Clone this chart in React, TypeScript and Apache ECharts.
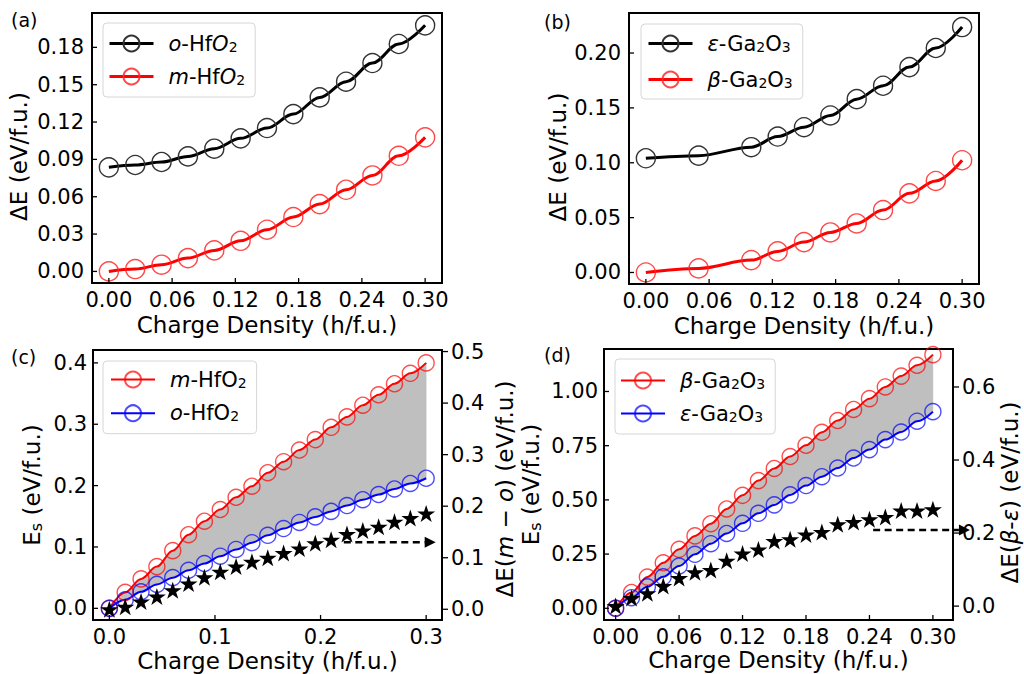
import React, { useEffect, useRef } from 'react';
import * as echarts from 'echarts';

const FONT = 'DejaVu Sans';

// ---------- Panel (a) ----------
const aX = [0, 0.025, 0.05, 0.075, 0.1, 0.125, 0.15, 0.175, 0.2, 0.225, 0.25, 0.275, 0.3];
const aOrtho = [0.0836, 0.0855, 0.0879, 0.0924, 0.0986, 0.1069, 0.1152, 0.1264, 0.1398, 0.1524, 0.1674, 0.1827, 0.1977];
const aMono = [0.0, 0.0019, 0.0054, 0.0107, 0.0169, 0.0246, 0.0335, 0.0437, 0.0541, 0.0656, 0.0771, 0.0929, 0.1077];
const aXTicks = [0, 0.06, 0.12, 0.18, 0.24, 0.3];
const aYTicks = [0, 0.03, 0.06, 0.09, 0.12, 0.15, 0.18];

// ---------- Panel (b) ----------
const bX = [0, 0.05, 0.1, 0.125, 0.15, 0.175, 0.2, 0.225, 0.25, 0.275, 0.3];
const bEps = [0.1041, 0.1065, 0.1142, 0.1239, 0.1324, 0.1431, 0.158, 0.1702, 0.1872, 0.2046, 0.2237];
const bBeta = [0, 0.0037, 0.0113, 0.0192, 0.0277, 0.0365, 0.0447, 0.0569, 0.0721, 0.0834, 0.1023];
const bXTicks = [0, 0.06, 0.12, 0.18, 0.24, 0.3];
const bYTicks = [0, 0.05, 0.1, 0.15, 0.2];

// ---------- Panel (c) ----------
const cX = [0, 0.015, 0.03, 0.045, 0.06, 0.075, 0.09, 0.105, 0.12, 0.135, 0.15, 0.165, 0.18, 0.195, 0.21, 0.225, 0.24, 0.255, 0.27, 0.285, 0.3];
const cMono = [0, 0.026, 0.048, 0.068, 0.094, 0.12, 0.142, 0.161, 0.181, 0.199, 0.221, 0.239, 0.258, 0.275, 0.295, 0.312, 0.331, 0.348, 0.366, 0.383, 0.4];
const cOrtho = [0, 0.014, 0.027, 0.039, 0.05, 0.062, 0.073, 0.085, 0.096, 0.107, 0.119, 0.13, 0.14, 0.149, 0.158, 0.1675, 0.177, 0.1855, 0.1945, 0.2035, 0.212];
const cDiff = [0, 0.005, 0.015, 0.025, 0.037, 0.05, 0.062, 0.073, 0.083, 0.092, 0.1, 0.109, 0.118, 0.128, 0.135, 0.146, 0.153, 0.16, 0.17, 0.177, 0.186];
const cArrow = [0.222, 0.13, 0.309, 0.13];
const cXTicks = [0, 0.1, 0.2, 0.3];
const cYTicks = [0, 0.1, 0.2, 0.3, 0.4];
const cY2Ticks = [0, 0.1, 0.2, 0.3, 0.4, 0.5];

// ---------- Panel (d) ----------
const dX = [0, 0.015, 0.03, 0.045, 0.06, 0.075, 0.09, 0.105, 0.12, 0.135, 0.15, 0.165, 0.18, 0.195, 0.21, 0.225, 0.24, 0.255, 0.27, 0.285, 0.3];
const dBeta = [0, 0.073, 0.144, 0.21, 0.272, 0.334, 0.39, 0.458, 0.521, 0.589, 0.645, 0.7, 0.752, 0.812, 0.866, 0.917, 0.967, 1.021, 1.071, 1.121, 1.17];
const dEps = [0, 0.049, 0.099, 0.145, 0.195, 0.249, 0.298, 0.345, 0.392, 0.438, 0.477, 0.523, 0.566, 0.607, 0.647, 0.693, 0.732, 0.778, 0.813, 0.863, 0.907];
const dDiff = [0, 0.022, 0.035, 0.055, 0.077, 0.093, 0.099, 0.124, 0.144, 0.155, 0.178, 0.183, 0.196, 0.203, 0.224, 0.23, 0.238, 0.244, 0.262, 0.262, 0.265];
const dArrow = [0.2435, 0.2085, 0.335, 0.2085];
const dXTicks = [0, 0.06, 0.12, 0.18, 0.24, 0.3];
const dYTicks = [0, 0.25, 0.5, 0.75, 1.0];
const dY2Ticks = [0, 0.2, 0.4, 0.6];

// axis ranges [min, max]
const RA = { x: [-0.016, 0.316], y: [-0.0093, 0.2076] };
const RB = { x: [-0.016, 0.316], y: [-0.0105, 0.2365] };
const RC = { x: [-0.0155, 0.315], y: [-0.019, 0.421], y2: [-0.0208, 0.503] };
const RD = { x: [-0.011, 0.319], y: [-0.054, 1.196], y2: [-0.038, 0.704] };

const LEGEND_TEXT: Record<string, string> = {
  a_o: '{i|o}{n|-Hf}{i|O}{s|2}',
  a_m: '{i|m}{n|-Hf}{i|O}{s|2}',
  b_e: '{i|ε}{n|-Ga}{s|2}{n|O}{s|3}',
  b_b: '{i|β}{n|-Ga}{s|2}{n|O}{s|3}',
  c_m: '{i|m}{n|-HfO}{s|2}',
  c_o: '{i|o}{n|-HfO}{s|2}',
  d_b: '{i|β}{n|-Ga}{s|2}{n|O}{s|3}',
  d_e: '{i|ε}{n|-Ga}{s|2}{n|O}{s|3}',
};

const STAR = 'path://M50 0L61.23 34.55L97.55 34.55L68.17 55.9L79.39 90.45L50 69.1L20.61 90.45L31.83 55.9L2.45 34.55L38.77 34.55Z';

const TICK_FS = 21;
const NAME_FS = 23;
const LEG_FS = 21;

const legendRich = {
  n: { fontSize: LEG_FS, fontFamily: FONT, color: '#000', lineHeight: 20 },
  i: { fontSize: LEG_FS, fontFamily: FONT, color: '#000', fontStyle: 'italic', lineHeight: 20 },
  s: { fontSize: 14, fontFamily: FONT, color: '#000', lineHeight: 10, verticalAlign: 'bottom' },
};
const nameRich = {
  n: { fontSize: NAME_FS, fontFamily: FONT, color: '#000', lineHeight: 25 },
  i: { fontSize: NAME_FS, fontFamily: FONT, color: '#000', fontStyle: 'italic', lineHeight: 25 },
  s: { fontSize: 16, fontFamily: FONT, color: '#000', lineHeight: 13, verticalAlign: 'bottom' },
};

function pts(xs: number[], ys: number[]) {
  return xs.map((x, i) => [x, ys[i]]);
}

function xAx(grid: number, r: number[], ticks: number[], digits: number, gap: number) {
  return {
    type: 'value', gridIndex: grid, min: r[0], max: r[1],
    axisLine: { show: false }, splitLine: { show: false }, axisTick: { show: false },
    axisLabel: { customValues: ticks, formatter: (v: number) => v.toFixed(digits), fontSize: TICK_FS, fontFamily: FONT, color: '#000', margin: 6 },
    name: 'Charge Density (h/f.u.)', nameLocation: 'middle', nameGap: gap, nameMoveOverlap: false,
    nameTextStyle: { fontSize: NAME_FS, fontFamily: FONT, color: '#000' },
  };
}

function yAx(grid: number, pos: string, r: number[], ticks: number[], digits: number,
  margin: number, name: string, gap: number, shift: number) {
  return {
    type: 'value', gridIndex: grid, position: pos, min: r[0], max: r[1],
    axisLine: { show: false }, splitLine: { show: false }, axisTick: { show: false },
    axisLabel: { customValues: ticks, formatter: (v: number) => v.toFixed(digits), fontSize: TICK_FS, fontFamily: FONT, color: '#000', margin },
    name, nameLocation: 'middle', nameGap: gap, nameRotate: 90, nameMoveOverlap: false,
    nameTextStyle: { fontSize: NAME_FS, fontFamily: FONT, color: '#000', rich: nameRich, padding: [0, shift, 0, 0] },
  };
}

// tick marks drawn through the axes' own scales
function tickSeries(xi: number, yi: number, data: number[][], dx: number, dy: number) {
  return {
    type: 'custom', xAxisIndex: xi, yAxisIndex: yi, silent: true, clip: false, z: 6,
    data,
    renderItem: (_p: any, api: any) => {
      const c = api.coord([api.value(0), api.value(1)]);
      return { type: 'line', shape: { x1: c[0], y1: c[1], x2: c[0] + dx, y2: c[1] + dy }, style: { stroke: '#000', lineWidth: 1.3 } };
    },
  };
}

function lineSeries(name: string, xi: number, yi: number, data: number[][], color: string,
  stroke: string, width: number, size: number) {
  return {
    name, type: 'line', xAxisIndex: xi, yAxisIndex: yi, data,
    smooth: 0.35, smoothMonotone: 'x', symbol: 'circle', symbolSize: size, showSymbol: true,
    itemStyle: { color: 'rgba(0,0,0,0)', borderColor: stroke, borderWidth: 1.4 },
    lineStyle: { color, width }, emphasis: { disabled: true }, z: 3,
  };
}

function fillSeries(xi: number, yi: number, xs: number[], top: number[], bot: number[]) {
  return {
    type: 'custom', xAxisIndex: xi, yAxisIndex: yi, silent: true, z: 1,
    data: [[xs[0], top[0]]],
    renderItem: (_p: any, api: any) => {
      const up = xs.map((x, i) => api.coord([x, top[i]]));
      const dn = xs.map((x, i) => api.coord([x, bot[i]])).reverse();
      return { type: 'polygon', shape: { points: up.concat(dn) }, style: { fill: '#bfbfbf', stroke: '#bfbfbf', lineWidth: 0.5 } };
    },
  };
}

function starSeries(xi: number, yi: number, data: number[][]) {
  return {
    type: 'scatter', xAxisIndex: xi, yAxisIndex: yi, data, symbol: STAR, symbolSize: [18, 17],
    itemStyle: { color: '#000', opacity: 1 }, clip: false, z: 4, emphasis: { disabled: true },
  };
}

function arrowSeries(xi: number, yi: number, arrow: number[]) {
  return {
    type: 'custom', xAxisIndex: xi, yAxisIndex: yi, silent: true, clip: false, z: 7,
    data: [arrow],
    encode: { x: [0, 2], y: [1, 3] },
    renderItem: (_p: any, api: any) => {
      const a = api.coord([api.value(0), api.value(1)]);
      const b = api.coord([api.value(2), api.value(3)]);
      const L = 11, W = 5.5;
      return {
        type: 'group',
        children: [
          { type: 'line', shape: { x1: a[0], y1: a[1], x2: b[0] - L, y2: b[1] }, style: { stroke: '#000', lineWidth: 2.4, lineDash: [7, 4.5] } },
          { type: 'polygon', shape: { points: [[b[0], b[1]], [b[0] - L, b[1] - W], [b[0] - L, b[1] + W]] }, style: { fill: '#000' } },
        ],
      };
    },
  };
}

function legend(left: number, top: number, names: string[], padding: number[], gap: number) {
  return {
    left, top, orient: 'vertical', data: names, padding, itemGap: gap,
    itemWidth: 44, itemHeight: 20, backgroundColor: '#fff', borderColor: '#d6d6d6', borderWidth: 1, borderRadius: 4,
    selectedMode: false, formatter: (n: string) => LEGEND_TEXT[n],
    textStyle: { fontSize: LEG_FS, fontFamily: FONT, color: '#000', padding: [0, 0, 0, 10], rich: legendRich },
    lineStyle: { width: 'inherit' },
  };
}

function gridBox(left: number, top: number, width: number, height: number) {
  return { left, top, width, height, show: true, borderColor: '#000', borderWidth: 2, backgroundColor: 'transparent', containLabel: false, outerBoundsMode: 'none' };
}

function label(text: string, left: number, top: number) {
  return { type: 'text', left, top, style: { text, fontSize: 19, fontFamily: FONT, fill: '#000' } };
}

export default function App() {
  const ref = useRef<HTMLDivElement>(null);
  useEffect(() => {
    if (!ref.current) return;
    const chart = echarts.init(ref.current, undefined, { renderer: 'svg' });
    const option: any = {
      animation: false,
      backgroundColor: '#fff',
      grid: [
        gridBox(92, 13, 350, 270),
        gridBox(629, 13, 350, 271),
        gridBox(93, 350, 349, 270),
        gridBox(604, 349, 349, 271),
      ],
      xAxis: [
        xAx(0, RA.x, aXTicks, 2, 30),
        xAx(1, RB.x, bXTicks, 2, 30),
        xAx(2, RC.x, cXTicks, 1, 29),
        xAx(3, RD.x, dXTicks, 2, 28),
      ],
      yAxis: [
        yAx(0, 'left', RA.y, aYTicks, 2, 8, 'ΔE (eV/f.u.)', 62, 17),
        yAx(1, 'left', RB.y, bYTicks, 2, 8, 'ΔE (eV/f.u.)', 60, 17),
        yAx(2, 'left', RC.y, cYTicks, 1, 6, '{n|E}{s|s}{n| (eV/f.u.)}', 49, 0),
        yAx(2, 'right', RC.y2, cY2Ticks, 1, 9, '{n|ΔE(}{i|m}{n| − }{i|o}{n|) (eV/f.u.)}', 50, 8),
        yAx(3, 'left', RD.y, dYTicks, 2, 6, '{n|E}{s|s}{n| (eV/f.u.)}', 61, 0),
        yAx(3, 'right', RD.y2, dY2Ticks, 1, 9, '{n|ΔE(}{i|β}{n|-}{i|ε}{n|) (eV/f.u.)}', 44, 16),
      ],
      legend: [
        legend(103, 23, ['a_o', 'a_m'], [10, 10, 10, 5], 12),
        legend(641, 24, ['b_e', 'b_b'], [9, 10, 9, 6], 15),
        legend(103, 361, ['c_m', 'c_o'], [8, 10, 10, 7], 12.7),
        legend(615, 359, ['d_b', 'd_e'], [11, 10, 10, 5], 12),
      ],
      graphic: [
        label('(a)', 11, 10),
        label('(b)', 544, 12),
        label('(c)', 11, 347),
        label('(d)', 544, 345),
      ],
      series: [
        lineSeries('a_o', 0, 0, pts(aX, aOrtho), '#000', '#333', 3, 19),
        lineSeries('a_m', 0, 0, pts(aX, aMono), '#ff0000', 'rgba(255,40,40,0.85)', 3, 19),
        lineSeries('b_e', 1, 1, pts(bX, bEps), '#000', '#333', 3, 19),
        lineSeries('b_b', 1, 1, pts(bX, bBeta), '#ff0000', 'rgba(255,40,40,0.85)', 3, 19),
        fillSeries(2, 2, cX, cMono, cOrtho),
        lineSeries('c_m', 2, 2, pts(cX, cMono), '#ff0000', 'rgba(255,0,0,0.7)', 2, 16),
        lineSeries('c_o', 2, 2, pts(cX, cOrtho), '#0000ff', 'rgba(0,0,255,0.7)', 2, 16),
        starSeries(2, 3, pts(cX, cDiff)),
        arrowSeries(2, 3, cArrow),
        fillSeries(3, 4, dX, dBeta, dEps),
        lineSeries('d_b', 3, 4, pts(dX, dBeta), '#ff0000', 'rgba(255,0,0,0.7)', 2, 16),
        lineSeries('d_e', 3, 4, pts(dX, dEps), '#0000ff', 'rgba(0,0,255,0.7)', 2, 16),
        starSeries(3, 5, pts(dX, dDiff)),
        arrowSeries(3, 5, dArrow),
        // ticks
        tickSeries(0, 0, aXTicks.map((v) => [v, RA.y[0]]), 0, -5),
        tickSeries(0, 0, aYTicks.map((v) => [RA.x[0], v]), 5, 0),
        tickSeries(1, 1, bXTicks.map((v) => [v, RB.y[0]]), 0, -5),
        tickSeries(1, 1, bYTicks.map((v) => [RB.x[0], v]), 5, 0),
        tickSeries(2, 2, cXTicks.map((v) => [v, RC.y[0]]), 0, -5),
        tickSeries(2, 2, cYTicks.map((v) => [RC.x[0], v]), 5, 0),
        tickSeries(2, 3, cY2Ticks.map((v) => [RC.x[1], v]), 6, 0),
        tickSeries(3, 4, dXTicks.map((v) => [v, RD.y[0]]), 0, -5),
        tickSeries(3, 4, dYTicks.map((v) => [RD.x[0], v]), 5, 0),
        tickSeries(3, 5, dY2Ticks.map((v) => [RD.x[1], v]), 6, 0),
      ],
    };
    chart.setOption(option);
    return () => chart.dispose();
  }, []);
  return <div ref={ref} style={{ position: 'fixed', left: 0, top: 0, width: 1024, height: 674, background: '#fff' }} />;
}
